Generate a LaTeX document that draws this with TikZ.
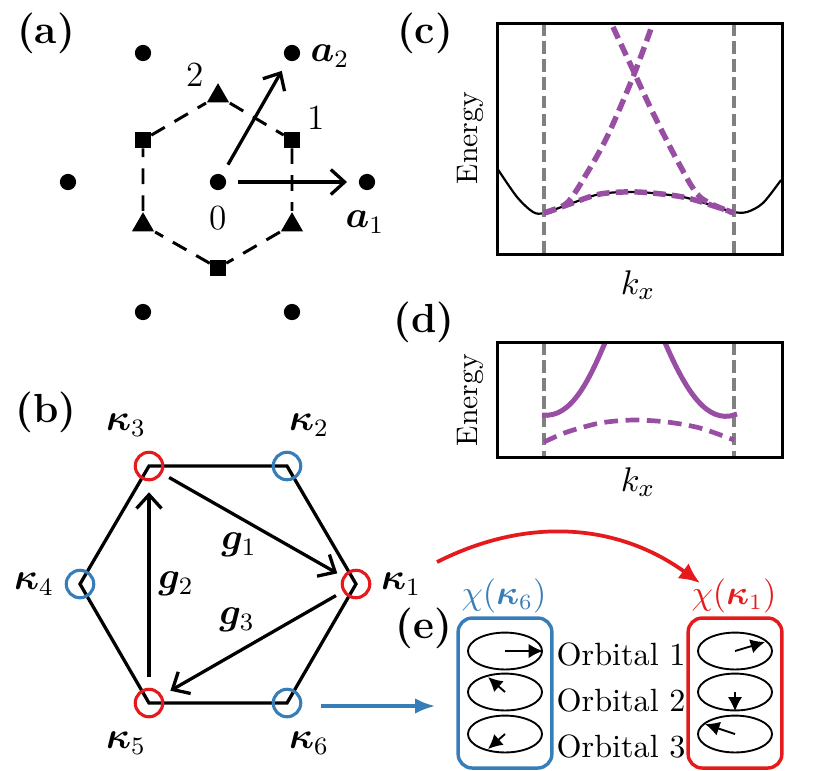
\documentclass[tikz,border=0pt]{standalone}
\usepackage{amsmath,bm}
\usetikzlibrary{arrows.meta,shapes.geometric}
\definecolor{myred}{HTML}{E41A1C}
\definecolor{myblue}{HTML}{377EB8}
\definecolor{mypurple}{HTML}{984EA3}
\definecolor{mygray}{HTML}{808080}
\tikzset{
  site/.style={circle,fill=black,inner sep=0pt,minimum size=5.2pt},
  sq/.style={rectangle,fill=black,inner sep=0pt,minimum size=4.9pt},
  tri/.style={regular polygon,regular polygon sides=3,fill=black,inner sep=0pt,minimum size=8.2pt},
  dashhex/.style={line width=0.95pt,dash pattern=on 5pt off 3.6pt},
  barb/.style={line width=1.05pt,-{Straight Barb[length=4.4pt,width=8pt,line width=1.05pt]}},
  txt/.style={inner sep=0pt,font=\fontsize{11.3}{13}\selectfont},
  vec/.style={inner sep=0pt,font=\fontsize{12}{14}\selectfont},
  panel/.style={inner sep=0pt,font=\fontsize{13}{15}\selectfont\bfseries},
  hexside/.style={line width=1.05pt,line join=miter},
  kcirc/.style={circle,draw,line width=1pt,inner sep=0pt,minimum size=8.8pt,fill=none},
  axbox/.style={draw,line width=0.95pt},
  gdash/.style={mygray,line width=1.4pt,dash pattern=on 4pt off 1.8pt},
  pdash/.style={mypurple,line width=1.75pt,dash pattern=on 4pt off 2pt},
  pdashb/.style={mypurple,line width=1.5pt,dash pattern=on 4.4pt off 2.4pt},
  psolid/.style={mypurple,line width=1.6pt},
  orb/.style={ellipse,draw,line width=0.6pt,minimum width=23.7pt,minimum height=11.8pt,inner sep=0pt},
  spin/.style={line width=0.6pt,-{Latex[length=4.6pt,width=4.6pt]}},
  charbox/.style={draw,line width=1.1pt,rounded corners=4.5pt},
}
\begin{document}
\begin{tikzpicture}[x=0.32pt,y=-0.32pt]
\useasboundingbox (0,0) rectangle (830,770);
% panel (a)
\node[panel] (la) at (46,33) {(a)};
\node[site] (s1) at (143,53) {};
\node[site] (a2) at (292,53) {};
\node[site] (s3) at (68,182) {};
\node[site] (o) at (218,182) {};
\node[site] (a1) at (367,182) {};
\node[site] (s6) at (143,312) {};
\node[site] (s7) at (292,312) {};
\node[sq] (q1) at (292,140) {};
\node[sq] (q2) at (143,140) {};
\node[sq] (q3) at (218,268) {};
\node[tri] (t1) at (218,96) {};
\node[tri] (t2) at (143,225) {};
\node[tri] (t3) at (292,225) {};
\draw[dashhex] (t1) -- (q1) -- (t3) -- (q3) -- (t2) -- (q2) -- (t1);
\draw[barb,shorten <=3.6pt,shorten >=3.8pt] (o) -- (a2);
\draw[barb,shorten <=3.6pt,shorten >=3.6pt] (o) -- (a1);
\node[txt] (n2) at (195,75) {2};
\node[txt] (n1) at (316,118) {1};
\node[txt] (n0) at (218,218) {0};
\node[vec] (la2) at (330,56) {$\bm{a}_2$};
\node[vec] (la1) at (365,222) {$\bm{a}_1$};
% panel (c)
\node[panel] (lc) at (425,33) {(c)};
\begin{scope}
\clip (497,23) rectangle (782,255);
\draw[line width=0.7pt] plot[smooth] coordinates {(497,168) (517,197) (533,212) (544,213) (567,205) (600,194) (638,192) (683,197) (717,207) (733,212) (747,212) (763,203) (781,180)};
\draw[gdash] (544,23) -- (544,255);
\draw[gdash] (734,23) -- (734,255);
\draw[pdash] plot[smooth] coordinates {(544,213) (567,205) (600,194) (638,192) (683,197) (717,207) (734,213)};
\draw[pdash] plot[smooth] coordinates {(544,213) (567,203) (587,173) (607,137) (633,77) (653,23)};
\draw[pdash] plot[smooth] coordinates {(613,27) (633,70) (653,113) (677,160) (700,197) (734,213)};
\end{scope}
\node[axbox,minimum width=91.2pt,minimum height=74.2pt,inner sep=0pt] (boxc) at (639.5,139) {};
\node[txt,rotate=90,font=\fontsize{9.5}{11}\selectfont] (ec) at (470,138) {Energy};
\node[txt] (kc) at (638,285) {$k_x$};
% panel (d)
\node[panel] (ld) at (424,322) {(d)};
\begin{scope}
\clip (497,342) rectangle (782,457);
\draw[gdash] (544,342) -- (544,457);
\draw[gdash] (734,342) -- (734,457);
\draw[psolid] (542,415) .. controls (572,419) and (590,378) .. (607,338);
\draw[psolid] (663,338) .. controls (683,385) and (703,420) .. (730,416) -- (737,414);
\draw[pdashb] plot[smooth] coordinates {(544,442) (567,432) (600,423) (633,420) (667,422) (700,428) (734,440)};
\end{scope}
\node[axbox,minimum width=91.2pt,minimum height=36.8pt,inner sep=0pt] (boxd) at (639.5,399.5) {};
\node[txt,rotate=90,font=\fontsize{9.5}{11}\selectfont] (ed) at (470,400) {Energy};
\node[txt] (kd) at (638,482) {$k_x$};
% panel (b)
\node[panel] (lb) at (46,412) {(b)};
\coordinate (v1) at (356,584);
\coordinate (v2) at (287,466);
\coordinate (v3) at (149,466);
\coordinate (v4) at (80,584);
\coordinate (v5) at (149,703);
\coordinate (v6) at (287,703);
\draw[hexside] (v1) -- (v2) -- (v3) -- (v4) -- (v5) -- (v6) -- cycle;
\node[kcirc,myred] (c1) at (v1) {};
\node[kcirc,myblue] (c2) at (v2) {};
\node[kcirc,myred] (c3) at (v3) {};
\node[kcirc,myblue] (c4) at (v4) {};
\node[kcirc,myred] (c5) at (v5) {};
\node[kcirc,myblue] (c6) at (v6) {};
\draw[barb,shorten <=2.5pt,shorten >=2pt] (c3) -- (c1);
\draw[barb,shorten <=2.5pt,shorten >=3pt] (c1) -- (c5);
\draw[barb,shorten <=3.5pt,shorten >=3.5pt] (c5) -- (c3);
\node[vec] (g1) at (239,545) {$\bm{g}_1$};
\node[vec] (g2) at (176,584) {$\bm{g}_2$};
\node[vec] (g3) at (237,620) {$\bm{g}_3$};
\node[vec] (k1) at (401,584) {$\bm{\kappa}_1$};
\node[vec] (k2) at (309,425) {$\bm{\kappa}_2$};
\node[vec] (k3) at (126,425) {$\bm{\kappa}_3$};
\node[vec] (k4) at (34,584) {$\bm{\kappa}_4$};
\node[vec] (k5) at (126,743) {$\bm{\kappa}_5$};
\node[vec] (k6) at (309,743) {$\bm{\kappa}_6$};
% panel (e)
\node[panel] (le) at (424,628) {(e)};
\node[charbox,myblue,minimum width=30pt,minimum height=48pt,inner sep=0pt] (bb) at (505,693) {};
\node[charbox,myred,minimum width=30pt,minimum height=48pt,inner sep=0pt] (rb) at (735,693) {};
\node[inner sep=0pt,font=\fontsize{10.7}{12}\selectfont,text=myblue] (cb) at (504,596) {$\chi(\bm{\kappa}_6)$};
\node[inner sep=0pt,font=\fontsize{10.7}{12}\selectfont,text=myred] (cr) at (734,596) {$\chi(\bm{\kappa}_1)$};
\coordinate (bstart) at (321,706);
\coordinate (bend) at (435,706);
\draw[myblue,line width=1pt,-{Latex[length=6.4pt,width=5pt]}] (bstart) -- (bend);
\coordinate (rstart) at (437,562);
\coordinate (rend) at (700,583);
\draw[myred,line width=1.2pt,-{Latex[length=6.6pt,width=6pt]}] (rstart) .. controls (530,515) and (620,525) .. (rend);
\node[orb] (b1) at (505,651) {};
\node[orb] (b2) at (505,692) {};
\node[orb] (b3) at (505,734) {};
\node[orb] (r1) at (735,651) {};
\node[orb] (r2) at (735,692) {};
\node[orb] (r3) at (735,734) {};
\draw[spin] (b1.center) -- (b1.east);
\draw[spin] (b2.center) -- (488,677);
\draw[spin] (b3.center) -- (488,749);
\draw[spin] (r1.center) -- (765,642);
\draw[spin] (r2.center) -- (r2.south);
\draw[spin] (r3.center) -- (705,724);
\node[inner sep=0pt,anchor=west,font=\fontsize{10.3}{12}\selectfont] (o1) at (556,654) {Orbital 1};
\node[inner sep=0pt,anchor=west,font=\fontsize{10.3}{12}\selectfont] (o2) at (556,700) {Orbital 2};
\node[inner sep=0pt,anchor=west,font=\fontsize{10.3}{12}\selectfont] (o3) at (556,746) {Orbital 3};
\end{tikzpicture}
\end{document}
